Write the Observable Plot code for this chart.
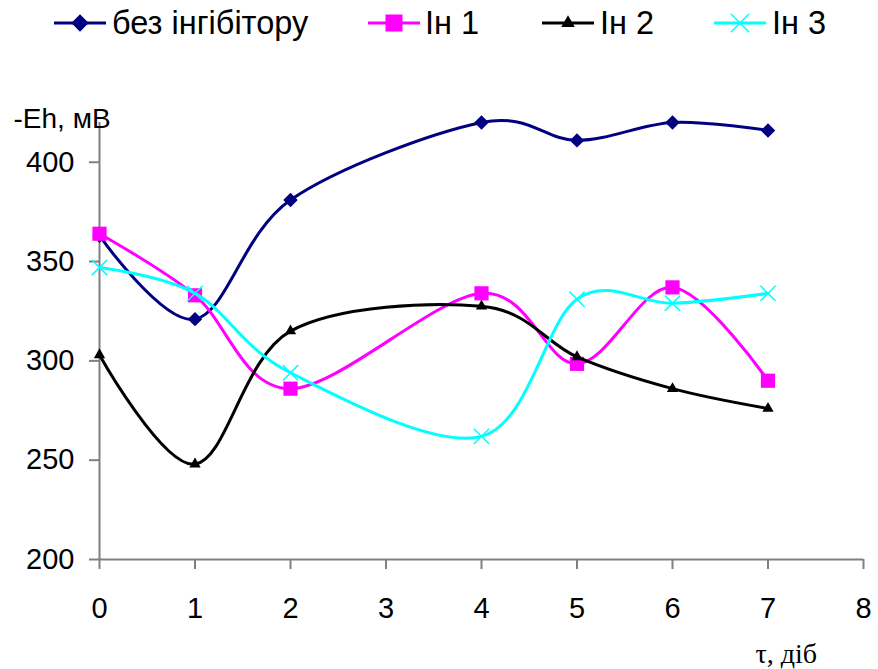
<!DOCTYPE html>
<html>
<head>
<meta charset="utf-8">
<script src="https://cdn.jsdelivr.net/npm/d3@7"></script>
<script src="https://cdn.jsdelivr.net/npm/@observablehq/plot@0.6"></script>
<style>
  html, body { margin: 0; padding: 0; background: #fff; }
  #wrap { width: 878px; }
  #legend { position: relative; width: 878px; height: 60px; font-family: "Liberation Sans", Arial, sans-serif; }
  #legend .sample { position: absolute; }
  #legend .lbl { position: absolute; font-size: 32.5px; line-height: 36px; white-space: nowrap; color: #000; }
</style>
</head>
<body>
<div id="wrap">
  <div id="legend"></div>
  <div id="chart"></div>
</div>
<script>
// ---- data ----
const days = [0, 1, 2, 4, 5, 6, 7];
const bezInhibitoru = [363, 321, 381, 420, 411, 420, 416];
const in1 = [364, 333, 286, 334, 298.5, 337, 290];
const in2 = [303, 248, 315, 327.5, 302, 286, 276];
const in3 = [347, 334, 294, 262, 331, 329, 334];
const seriesNames = ["без інгібітору", "Ін 1", "Ін 2", "Ін 3"];
const xTicks = [0, 1, 2, 3, 4, 5, 6, 7, 8];
const yTicks = [200, 250, 300, 350, 400];
const yLabel = "-Eh, мВ";
const xLabel = "τ, діб";

// ---- styles ----
const styles = [
  {color: "#000080", symbol: "diamond2", r: 6.5, filled: true, width: 3},
  {color: "#FF00FF", symbol: "square", r: 8, filled: true, width: 3},
  {color: "#000000", symbol: "triangle", r: 4.2, filled: true, width: 3},
  {color: "#00FFFF", symbol: "times", r: 7, filled: false, width: 3}
];
const values = [bezInhibitoru, in1, in2, in3];

const rows = [];
values.forEach((vals, si) => {
  vals.forEach((v, i) => rows.push({series: seriesNames[si], x: days[i], y: v, si}));
});

// ---- legend ----
const legendPos = [
  {line: 54, text: 112},
  {line: 368, text: 425},
  {line: 542, text: 600},
  {line: 714, text: 772}
];
const legend = document.getElementById("legend");
const symMap = {diamond2: d3.symbolDiamond2, square: d3.symbolSquare, triangle: d3.symbolTriangle, times: d3.symbolTimes};
seriesNames.forEach((name, si) => {
  const st = styles[si];
  const ns = "http://www.w3.org/2000/svg";
  const svg = document.createElementNS(ns, "svg");
  svg.setAttribute("width", 52);
  svg.setAttribute("height", 26);
  svg.setAttribute("class", "sample");
  svg.style.left = legendPos[si].line + "px";
  svg.style.top = (23 - 13) + "px";
  const line = document.createElementNS(ns, "line");
  line.setAttribute("x1", 0); line.setAttribute("x2", 52);
  line.setAttribute("y1", 13); line.setAttribute("y2", 13);
  line.setAttribute("stroke", st.color); line.setAttribute("stroke-width", st.width);
  svg.appendChild(line);
  const p = document.createElementNS(ns, "path");
  const lr = st.r * 1.2;
  p.setAttribute("d", d3.symbol(symMap[st.symbol], Math.PI * lr * lr)());
  p.setAttribute("transform", "translate(26,13)");
  if (st.filled) { p.setAttribute("fill", st.color); p.setAttribute("stroke", "none"); }
  else { p.setAttribute("fill", "none"); p.setAttribute("stroke", st.color); p.setAttribute("stroke-width", 1.5); }
  svg.appendChild(p);
  legend.appendChild(svg);
  const sp = document.createElement("span");
  sp.className = "lbl";
  sp.textContent = name;
  sp.style.left = legendPos[si].text + "px";
  sp.style.top = "5px";
  legend.appendChild(sp);
});

// ---- chart ----
const marks = [
  Plot.ruleY([200], {stroke: "#808080", strokeWidth: 2}),
  Plot.ruleX([0], {stroke: "#808080", strokeWidth: 2}),
  Plot.axisX({ticks: xTicks, tickSize: 10, tickPadding: 28, stroke: "#808080", strokeWidth: 2, fill: "black", fontSize: 29, label: null, tickFormat: d => String(d)}),
  Plot.axisY({ticks: yTicks, tickSize: 10, tickPadding: 15, stroke: "#808080", strokeWidth: 2, fill: "black", fontSize: 29, label: null, tickFormat: d => String(d)})
];
seriesNames.forEach((name, si) => {
  const st = styles[si];
  const data = rows.filter(r => r.si === si);
  marks.push(Plot.line(data, {x: "x", y: "y", stroke: st.color, strokeWidth: st.width, curve: "cardinal", tension: 0}));
  if (st.filled) {
    marks.push(Plot.dot(data, {x: "x", y: "y", symbol: st.symbol, r: st.r, fill: st.color, stroke: "none"}));
  } else {
    marks.push(Plot.dot(data, {x: "x", y: "y", symbol: st.symbol, r: st.r, fill: "none", stroke: st.color, strokeWidth: 1.5}));
  }
});
marks.push(Plot.text([yLabel], {frameAnchor: "top-left", text: d => d, textAnchor: "start", lineAnchor: "bottom", dx: -86, dy: 5, fontSize: 28, fill: "black", fontFamily: "Liberation Sans, Arial, sans-serif"}));
marks.push(Plot.text([xLabel], {frameAnchor: "bottom-right", text: d => d, textAnchor: "start", lineAnchor: "bottom", dx: -108, dy: 103, fontSize: 28, fill: "black", fontFamily: "Liberation Serif, Times New Roman, serif"}));

const chart = Plot.plot({
  width: 878,
  height: 609,
  marginLeft: 99,
  marginRight: 15,
  marginTop: 62,
  marginBottom: 110,
  style: {fontFamily: "Liberation Sans, Arial, sans-serif", background: "white", overflow: "visible"},
  x: {domain: [0, 8]},
  y: {domain: [200, 420]},
  marks
});
document.getElementById("chart").appendChild(chart);
</script>
</body>
</html>
